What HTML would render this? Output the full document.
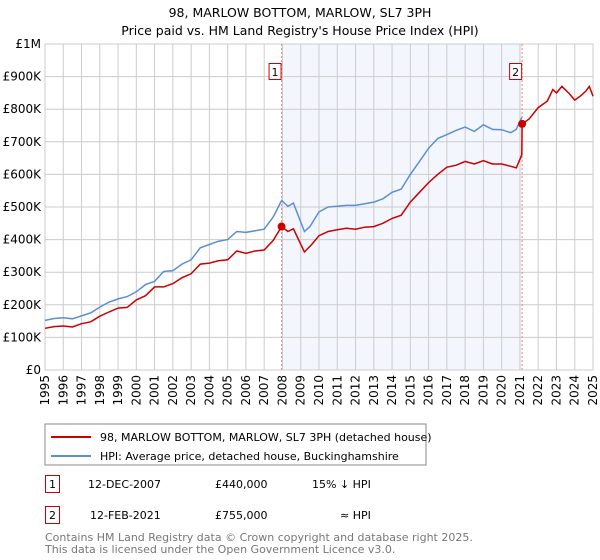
<!DOCTYPE html>
<html><head><meta charset="utf-8">
<style>
body{margin:0;background:#fff;font-family:"DejaVu Sans","Liberation Sans",sans-serif;}
#wrap{position:relative;width:600px;height:560px;overflow:hidden;}
svg text{font-family:"DejaVu Sans","Liberation Sans",sans-serif;}
</style></head>
<body>
<div id="wrap">
<svg id="chart" width="600" height="560">
<text x="300" y="17" text-anchor="middle" font-size="12.5" fill="#000">98, MARLOW BOTTOM, MARLOW, SL7 3PH</text>
<text x="300" y="35" text-anchor="middle" font-size="12.5" fill="#000">Price paid vs. HM Land Registry's House Price Index (HPI)</text>
<g id="grid"></g>
<g id="marks"></g>
<g>
<rect x="45" y="424" width="381" height="41" fill="#fff" stroke="#888"/>
<line x1="51" y1="437" x2="91" y2="437" stroke="#cc0000" stroke-width="2"/>
<text x="100" y="441" font-size="11">98, MARLOW BOTTOM, MARLOW, SL7 3PH (detached house)</text>
<line x1="51" y1="456" x2="91" y2="456" stroke="#5b8fd4" stroke-width="2"/>
<text x="100" y="460" font-size="11">HPI: Average price, detached house, Buckinghamshire</text>
</g>
<g>
<rect x="45.5" y="475.5" width="14" height="17" fill="#fff" stroke="#cc0000"/>
<text x="52.5" y="488" font-size="11" text-anchor="middle">1</text>
<text x="88" y="488" font-size="11">12-DEC-2007</text>
<text x="215" y="488" font-size="11">£440,000</text>
<text x="312" y="488" font-size="11">15% ↓ HPI</text>
<rect x="45.5" y="506.5" width="14" height="17" fill="#fff" stroke="#cc0000"/>
<text x="52.5" y="519" font-size="11" text-anchor="middle">2</text>
<text x="90" y="519" font-size="11">12-FEB-2021</text>
<text x="215" y="519" font-size="11">£755,000</text>
<text x="340" y="519" font-size="11">≈ HPI</text>
</g>
<text x="45" y="541" font-size="11" fill="#777">Contains HM Land Registry data © Crown copyright and database right 2025.</text>
<text x="45" y="553" font-size="11" fill="#777">This data is licensed under the Open Government Licence v3.0.</text>
</svg>
</div>
<script>
const yTickValues=[0,100,200,300,400,500,600,700,800,900,1000];
const yTickLabels=["£0","£100K","£200K","£300K","£400K","£500K","£600K","£700K","£800K","£900K","£1M"];
const xYears=[1995,1996,1997,1998,1999,2000,2001,2002,2003,2004,2005,2006,2007,2008,2009,2010,2011,2012,2013,2014,2015,2016,2017,2018,2019,2020,2021,2022,2023,2024,2025];
const hpiDates=[1995,1995.5,1996,1996.5,1997,1997.5,1998,1998.5,1999,1999.5,2000,2000.5,2001,2001.5,2002,2002.5,2003,2003.5,2004,2004.5,2005,2005.5,2006,2006.5,2007,2007.5,2007.95,2008.3,2008.6,2009.2,2009.5,2010,2010.5,2011,2011.5,2012,2012.5,2013,2013.5,2014,2014.5,2015,2015.5,2016,2016.5,2017,2017.5,2018,2018.5,2019,2019.5,2020,2020.5,2020.8,2021.1];
const hpiValues=[152,158,160,157,166,175,193,208,218,225,240,262,272,302,305,325,338,375,385,395,400,425,422,427,432,470,520,502,512,425,440,485,500,502,505,505,510,515,525,545,555,600,640,680,710,722,735,745,732,752,738,737,728,738,775];
const saleDates=[2007.95,2021.12];
const saleValues=[440,755];
const priceDates=[1995,1995.5,1996,1996.5,1997,1997.5,1998,1998.5,1999,1999.5,2000,2000.5,2001,2001.5,2002,2002.5,2003,2003.5,2004,2004.5,2005,2005.5,2006,2006.5,2007,2007.5,2007.95,2008.3,2008.6,2009.2,2009.6,2010,2010.5,2011,2011.5,2012,2012.5,2013,2013.5,2014,2014.5,2015,2015.5,2016,2016.5,2017,2017.5,2018,2018.5,2019,2019.5,2020,2020.5,2020.8,2021.1,2021.12,2021.5,2022,2022.5,2022.8,2023,2023.3,2023.7,2024,2024.3,2024.6,2024.8,2025];
const priceValues=[128,133,135,132,142,148,165,178,190,192,215,228,255,255,265,283,295,325,328,335,338,365,358,365,368,398,440,425,433,362,385,412,425,430,435,432,438,440,450,465,475,515,545,575,600,622,628,640,632,642,632,632,625,620,660,755,770,805,825,860,850,870,848,828,840,855,870,840];
const X0=45,X1=593,Y0=370,Y1=44;
function xs(t){return X0+(t-1995)/30*(X1-X0);}
function ys(v){return Y0-v/1000*(Y0-Y1);}
const NS="http://www.w3.org/2000/svg";
function mk(tag,attrs,parent){const e=document.createElementNS(NS,tag);for(const k in attrs)e.setAttribute(k,attrs[k]);parent.appendChild(e);return e;}
const grid=document.getElementById('grid');
const marks=document.getElementById('marks');
const shade=mk('rect',{x:xs(saleDates[0]),y:Y1,width:xs(saleDates[1])-xs(saleDates[0]),height:Y0-Y1,fill:'#f3f6fd'},grid);


yTickValues.forEach((v,i)=>{
  const l=mk('line',{x1:X0,x2:X1,y1:ys(v),y2:ys(v),stroke:'#ccc','stroke-width':1},grid);
  
  
  const t=mk('text',{x:X0-4,y:ys(v)+4,'text-anchor':'end','font-size':'12'},grid);
  t.textContent=yTickLabels[i];
  
  
});
xYears.forEach(yr=>{
  const l=mk('line',{x1:xs(yr),x2:xs(yr),y1:Y1,y2:Y0,stroke:'#ccc','stroke-width':1},grid);
  
  
  const x=xs(yr),y=Y0+5;
  const t=mk('text',{x:x+4,y:y,'text-anchor':'end','font-size':'12',transform:`rotate(-90 ${x+4} ${y})`},grid);
  t.textContent=yr;
  
  
});
const frame=mk('rect',{x:X0,y:Y1,width:X1-X0,height:Y0-Y1,fill:'none',stroke:'#ccc'},grid);


saleDates.forEach((d,i)=>{
  const l=mk('line',{x1:xs(d),x2:xs(d),y1:Y1,y2:Y0,stroke:'#ee8888','stroke-width':1,'stroke-dasharray':'2,2'},marks);
  
  
});
function pts(ds,vs){return ds.map((d,i)=>xs(d).toFixed(1)+','+ys(vs[i]).toFixed(1)).join(' ');}
const hpi=mk('polyline',{points:pts(hpiDates,hpiValues),fill:'none',stroke:'#5b8fd4','stroke-width':1.5},marks);


const pr=mk('polyline',{points:pts(priceDates,priceValues),fill:'none',stroke:'#cc0000','stroke-width':1.5},marks);


saleDates.forEach((d,i)=>{
  const c=mk('circle',{cx:xs(d),cy:ys(saleValues[i]),r:4,fill:'#cc0000'},marks);
  
  
  const bx=xs(d)-13;
  const r=mk('rect',{x:bx+0.5,y:63.5,width:12,height:16,fill:'#fff',stroke:'#cc0000'},marks);
  
  
  const t=mk('text',{x:bx+6.5,y:76,'text-anchor':'middle','font-size':'11'},marks);
  t.textContent=String(i+1);
  
  
});
</script>
</body></html>
